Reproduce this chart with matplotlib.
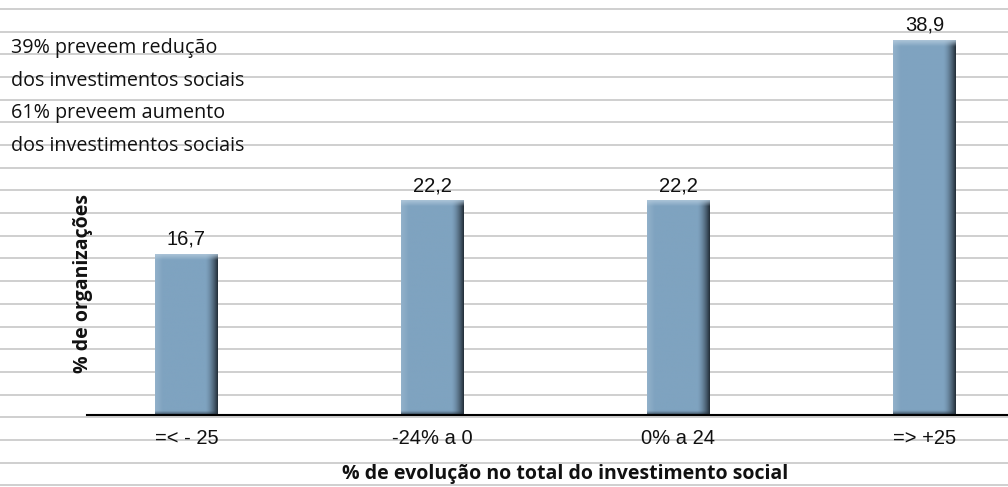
import numpy as np
import matplotlib
matplotlib.use("Agg")
import matplotlib.pyplot as plt
from matplotlib.colors import to_rgb

# data
categories = ["=< - 25", "-24% a 0", "0% a 24", "=> +25"]
values = [16.7, 22.2, 22.2, 38.9]
value_labels = ["16,7", "22,2", "22,2", "38,9"]
note_lines = ["39% preveem redução", "dos investimentos sociais",
              "61% preveem aumento", "dos investimentos sociais"]

W, H = 1008, 487
fig = plt.figure(figsize=(W / 100, H / 100), dpi=100)

# ruled background lines across the whole picture
bg = fig.add_axes([0, 0, 1, 1], zorder=-5)
bg.set_xlim(0, W)
bg.set_ylim(H, 0)
bg.axis("off")
for y in np.arange(9, H, 22.68):
    bg.axhline(y, color="#cbcbcb", lw=1.3)

# notes, one line each (baselines in pixels from top)
for txt, yb in zip(note_lines, [53, 86, 118, 151]):
    bg.text(11, yb, txt, ha="left", va="baseline", fontsize=14.2,
            family="Open Sans", color="#111111")

# main axes
ax = fig.add_axes([87 / W, 72 / H, 1 - 87 / W, 415 / H])
ax.patch.set_alpha(0)
x = np.arange(len(categories))
bars = ax.bar(x, values, width=0.256, color="#7fa3c0", zorder=2)

# bevelled look: build a shaded image for each bar
base = np.array(to_rgb("#7fa3c0"))
light = np.array(to_rgb("#b4cadc"))
dark = np.array(to_rgb("#26323d"))
for rect in bars:
    x0, w, h = rect.get_x(), rect.get_width(), rect.get_height()
    rows, cols = 300, 64
    fx = np.linspace(0, 1, cols)
    yy = np.linspace(h, 0, rows)  # data units, top row first
    img = np.tile(base, (rows, cols, 1))
    # left highlight
    lf = np.clip(1 - fx / 0.12, 0, 1)[None, :, None] * 0.35
    img = img * (1 - lf) + light * lf
    # right shadow
    rf = np.clip((fx - 0.8) / 0.2, 0, 1) ** 1.6
    rf = rf[None, :, None]
    img = img * (1 - rf) + dark * rf
    # top highlight
    tf = np.clip(1 - (h - yy) / 0.6, 0, 1)[:, None, None] * 0.8
    img = img * (1 - tf) + light * tf
    # bottom shadow
    bf = np.clip(1 - yy / 0.45, 0, 1)[:, None, None] ** 1.3 * 0.8
    img = img * (1 - bf) + dark * bf
    ax.imshow(img, extent=[x0, x0 + w, 0, h], aspect="auto", zorder=3,
              interpolation="bilinear")

ax.set_xlim(-0.404, 3.34)
ax.set_ylim(0, 43.05)

for xi, v, lab in zip(x, values, value_labels):
    ax.annotate(lab, (xi, v), xytext=(0, 4), textcoords="offset points",
                ha="center", va="bottom", fontsize=14.5,
                family="Liberation Sans", color="#111111")

for s in ["left", "right", "top"]:
    ax.spines[s].set_visible(False)
ax.spines["bottom"].set_color("black")
ax.spines["bottom"].set_linewidth(1.5)
ax.spines["bottom"].set_zorder(4)
ax.set_yticks([])
ax.set_xticks(x)
ax.set_xticklabels(categories, fontsize=14.5, family="Liberation Sans",
                   color="#111111")
ax.tick_params(axis="x", length=0, pad=10)

ax.set_ylabel("% de organizações", fontsize=14, family="Open Sans",
              fontweight="bold", color="#111111")
ax.yaxis.set_label_coords(0.006, 0.316)
ax.set_xlabel("% de evolução no total do investimento social", fontsize=14,
              family="Open Sans", fontweight="bold", color="#111111")
ax.xaxis.set_label_coords((565 - 87) / 921, -(474 - 415) / 415)
ax.xaxis.label.set_va("center")

fig.savefig("out.png", dpi=100)
